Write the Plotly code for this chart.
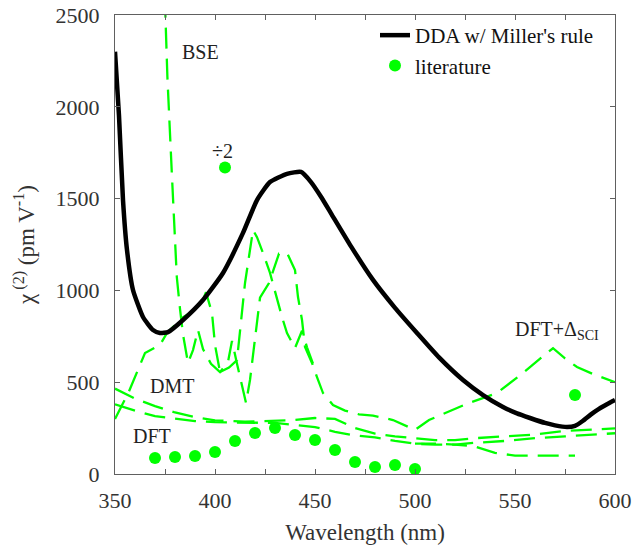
import plotly.graph_objects as go

# ---------------- data ----------------
# DDA with Miller's rule (black solid)
wl_dda = [350, 352, 354, 356, 359, 364, 369, 372.5, 376.5, 384, 394, 404, 414, 421,
          427.5, 436, 443, 448, 453, 458, 468, 479, 490, 501, 512, 524, 534, 544,
          551, 557.5, 565, 570, 576, 580, 584, 588, 592, 596, 600]
chi_dda = [2300, 1950, 1492, 1220, 1002, 855, 784, 768, 773, 839, 948, 1095, 1313, 1492,
           1590, 1635, 1645, 1590, 1510, 1420, 1240, 1057, 905, 768, 635, 512, 430, 365,
           330, 305, 278, 265, 256, 262, 290, 325, 355, 380, 403]

# literature points (the 405 nm point is shown divided by 2)
wl_lit = [370, 380, 390, 400, 405, 410, 420, 430, 440, 450, 460, 470, 480, 490, 500, 580]
chi_lit = [87, 93, 98, 120, 1670, 180, 223, 250, 212, 185, 131, 65, 38, 49, 27, 430]

# literature calculations (green dashed curves)
wl_bse = [374.9, 376.2, 378.5, 380.9, 382.5, 384, 386.5, 389, 391.5, 394, 398, 402.5,
          406.5, 408.5, 411, 413.5, 415.5, 417.5, 419.5, 422.5, 427, 432, 436, 440,
          441.5, 443.5, 445, 448.5, 451, 454, 459, 465, 472, 479, 489, 497.5, 500,
          507, 517, 527, 541, 554, 566.5, 569, 575, 581, 590, 600]
chi_bse = [2600, 2162, 1618, 1073, 900, 760, 605, 675, 784, 680, 600, 555,
           610, 725, 600, 474, 387, 512, 680, 960, 1040, 1200, 1205, 1111,
           964, 839, 692, 605, 528, 441, 376, 345, 325, 318, 294, 250, 240,
           294, 340, 387, 441, 550, 664, 685, 630, 583, 540, 500]

wl_dmt_rise = [350, 357, 365, 372.5, 376, 383.5, 387.5, 393.5, 395.5, 398.5, 400, 402.5]
chi_dmt_rise = [300, 450, 659, 703, 768, 850, 877, 937, 990, 877, 703, 555]

wl_peak = [402.5, 407, 411, 415, 419, 421, 424, 427.5, 433.5, 436, 440, 443.5, 446, 449]
chi_peak = [555, 580, 620, 1040, 1329, 1290, 1204, 1095, 855, 768, 686, 780, 690, 600]

wl_dmt = [350, 360, 370, 380, 390, 400, 415, 430, 440, 450, 460, 470, 480, 490, 500,
          510, 520, 530, 545, 560, 575, 590, 600]
chi_dmt = [465, 410, 370, 335, 310, 292, 285, 288, 294, 305, 300, 250, 220, 205, 195,
           185, 185, 195, 205, 215, 235, 245, 248]

wl_dft = [350, 360, 370, 380, 390, 400, 415, 430, 440, 450, 460, 470, 480, 490, 500,
          510, 520, 530, 545, 560, 575, 590, 600]
chi_dft = [380, 345, 315, 300, 288, 282, 280, 278, 267, 255, 230, 210, 200, 180, 165,
           160, 160, 170, 180, 195, 205, 215, 222]

wl_dft2 = [500, 510, 520, 530, 540, 550, 565, 580]
chi_dft2 = [165, 165, 160, 150, 115, 100, 100, 100]

dashed_sets = [(wl_bse, chi_bse), (wl_dmt_rise, chi_dmt_rise), (wl_peak, chi_peak),
               (wl_dmt, chi_dmt), (wl_dft, chi_dft), (wl_dft2, chi_dft2)]

x_tickvals = [350, 400, 450, 500, 550, 600]
x_minor_vals = [375, 425, 475, 525, 575]
y_tickvals = [0, 500, 1000, 1500, 2000, 2500]

# text labels: (x, y, text)
labels = [(392.5, 2300, "BSE"), (403.5, 1760, "÷2"), (378.5, 480, "DMT"),
          (368.5, 205, "DFT"), (571, 780, "DFT+Δ<sub>SCI</sub>")]

GREEN = "#00ff00"
FONT = "Liberation Serif"

fig = go.Figure()
for wl, chi in dashed_sets:
    fig.add_trace(go.Scatter(x=wl, y=chi, mode="lines", showlegend=False,
                             line=dict(color=GREEN, width=2.3, dash="21px,10px"),
                             hoverinfo="skip"))

fig.add_trace(go.Scatter(x=wl_dda, y=chi_dda, mode="lines", name="DDA w/ Miller's rule",
                         line=dict(color="black", width=4.5, shape="spline", smoothing=0.5)))
fig.add_trace(go.Scatter(x=wl_lit, y=chi_lit, mode="markers", name="literature",
                         marker=dict(color=GREEN, size=12)))

for x, y, t in labels:
    fig.add_annotation(x=x, y=y, text=t, showarrow=False,
                       font=dict(family=FONT, size=20, color="#222"))

axis_common = dict(showline=True, mirror="ticks", ticks="inside", ticklen=5,
                   linecolor="#606060", linewidth=1, tickcolor="#606060",
                   showgrid=False, zeroline=False,
                   tickfont=dict(family=FONT, size=22, color="#333"))

fig.update_layout(
    width=634, height=554,
    margin=dict(l=115, r=19, t=15, b=80, autoexpand=False),
    paper_bgcolor="white", plot_bgcolor="white",
    xaxis=dict(range=[350, 600], tickvals=x_tickvals, ticklabelstandoff=7,
               minor=dict(tickvals=x_minor_vals, ticks="inside", ticklen=5,
                          tickcolor="#606060"),
               title=dict(text="Wavelength (nm)", standoff=11,
                          font=dict(family=FONT, size=23, color="#333")),
               **axis_common),
    yaxis=dict(range=[0, 2500], tickvals=y_tickvals, ticklabelstandoff=10,
               title=dict(text="χ<sup> (2)</sup> (pm V<sup>-1</sup>)", standoff=14,
                          font=dict(family=FONT, size=23, color="#333")),
               **axis_common),
    legend=dict(x=0.52, y=1.0, xanchor="left", yanchor="top",
                bgcolor="rgba(0,0,0,0)", borderwidth=0,
                font=dict(family=FONT, size=21, color="#111"),
                tracegroupgap=0),
    showlegend=True,
)

fig.write_html("out.html")
